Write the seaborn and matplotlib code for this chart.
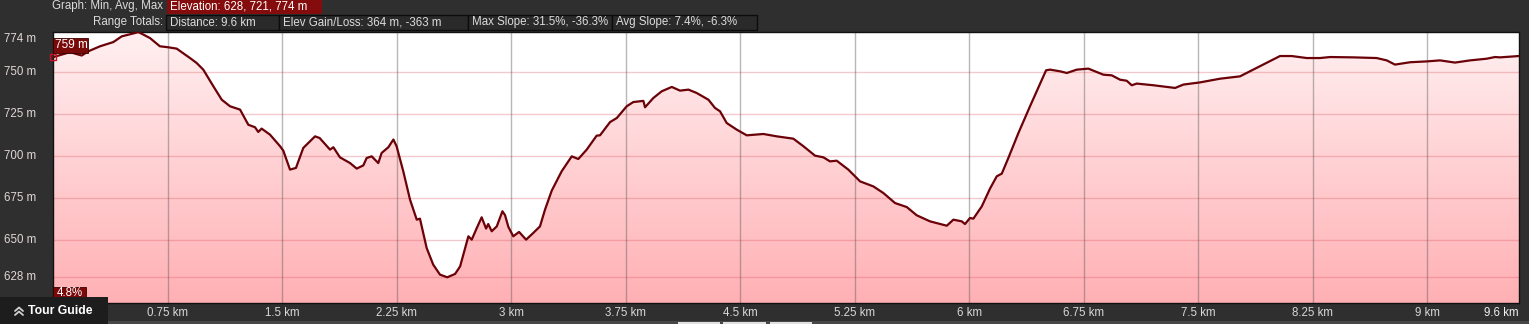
import numpy as np
import matplotlib
matplotlib.use("Agg")
import matplotlib.pyplot as plt
import seaborn as sns
from matplotlib.colors import LinearSegmentedColormap
from matplotlib.patches import Rectangle
from matplotlib.lines import Line2D
from matplotlib import transforms

# ---------------- data ----------------
distance_km = [0.0, 0.111, 0.188, 0.231, 0.308, 0.395, 0.45, 0.537, 0.559, 0.635, 0.70, 0.755, 0.81,
               0.897, 0.94, 0.984, 1.05, 1.105, 1.159, 1.225, 1.279, 1.323, 1.344, 1.366, 1.421, 1.487,
               1.508, 1.552, 1.591, 1.639, 1.716, 1.746, 1.814, 1.836, 1.879, 1.945, 1.989, 2.032,
               2.054, 2.087, 2.13, 2.152, 2.196, 2.229, 2.25, 2.294, 2.338, 2.382, 2.403, 2.447, 2.49,
               2.534, 2.582, 2.633, 2.666, 2.72, 2.742, 2.775, 2.807, 2.836, 2.85, 2.873, 2.906, 2.943,
               2.96, 2.982, 3.014, 3.052, 3.098, 3.145, 3.189, 3.222, 3.266, 3.331, 3.397, 3.44, 3.495,
               3.56, 3.582, 3.648, 3.692, 3.757, 3.80, 3.866, 3.877, 3.931, 3.986, 4.052, 4.106, 4.161,
               4.215, 4.292, 4.335, 4.368, 4.412, 4.477, 4.543, 4.652, 4.739, 4.848, 4.914, 4.99, 5.045,
               5.088, 5.132, 5.208, 5.285, 5.372, 5.437, 5.514, 5.591, 5.656, 5.743, 5.853, 5.896,
               5.951, 5.972, 6.005, 6.027, 6.082, 6.136, 6.18, 6.213, 6.256, 6.322, 6.398, 6.503,
               6.529, 6.595, 6.639, 6.704, 6.78, 6.878, 6.933, 6.988, 7.031, 7.064, 7.097, 7.206,
               7.348, 7.402, 7.511, 7.642, 7.773, 7.86, 8.035, 8.111, 8.21, 8.297, 8.363, 8.515,
               8.668, 8.734, 8.788, 8.887, 8.996, 9.083, 9.181, 9.279, 9.388, 9.443, 9.476, 9.6]
elevation_m = [759, 762, 760, 762.5, 765.5, 768, 771.4, 773.4, 774, 770.4, 765.5, 764.9, 764.1,
               758.5, 755.6, 751.6, 741.7, 733.7, 729.8, 727.8, 718.8, 717.3, 714.5, 716.5, 712.9, 706,
               703.4, 692.1, 693.1, 705, 711.9, 710.9, 704, 705.4, 699.4, 696, 692.7, 694.6,
               699, 700, 696, 702, 705.4, 710, 706, 691, 674.2, 662.3, 662.9, 645.4, 635.5,
               629.6, 628, 630, 634.5, 652.4, 650.4, 657.3, 663.7, 657, 659.7, 655.4, 658.3, 667.3,
               665, 658, 652.4, 655, 650.4, 654.4, 658.3, 668.3, 679.6, 691.1, 700, 698.4, 704,
               712.3, 712.5, 720.4, 722.8, 729.8, 732.3, 733, 729.2, 734.7, 738.7, 741.3, 739.1, 739.7,
               737.7, 733.7, 728.8, 726.8, 719.8, 715.9, 712.5, 713.3, 711.9, 710.5, 706, 700.4, 699.4,
               697, 697.4, 692.1, 685.1, 682.1, 678.2, 672.2, 669.8, 664.9, 661.3, 658.7, 662.3,
               661.3, 659.7, 663.3, 662.9, 670.2, 680.8, 688.1, 689.7, 699, 713.9, 729.8, 751.2,
               751.6, 750.6, 749.6, 751.6, 752.2, 748.6, 748.2, 745.6, 745, 742.3, 743.3, 742.3,
               740.7, 742.7, 744, 746.2, 747.6, 751.6, 759.7, 759.7, 758.5, 758.5, 759.1, 758.9,
               758.5, 757.1, 754.6, 756, 756.5, 757.1, 755.8, 757.1, 758.1, 759.1, 758.9, 759.7]

y_ticks = [774, 750, 725, 700, 675, 650, 628]
x_ticks = [0.75, 1.5, 2.25, 3.0, 3.75, 4.5, 5.25, 6.0, 6.75, 7.5, 8.25, 9.0]
x_tick_labels = ["0.75 km", "1.5 km", "2.25 km", "3 km", "3.75 km", "4.5 km", "5.25 km",
                 "6 km", "6.75 km", "7.5 km", "8.25 km", "9 km"]
x_end_label = "9.6 km"
header_row1 = ["Graph: Min, Avg, Max", "Elevation: 628, 721, 774 m"]
header_row2_title = "Range Totals:"
header_row2 = ["Distance: 9.6 km", "Elev Gain/Loss: 364 m, -363 m",
               "Max Slope: 31.5%, -36.3%", "Avg Slope: 7.4%, -6.3%"]
start_label = "759 m"
slope_label = "4.8%"
tour_label = "Tour Guide"

# ---------------- figure ----------------
W, H = 1529, 324
sns.set_style("white")
plt.rcParams["font.family"] = ["Liberation Sans", "DejaVu Sans"]
BG = "#2f2f2f"
fig = plt.figure(figsize=(W / 100, H / 100), dpi=100, facecolor=BG)

def fx(px):
    return px / W

def fy(py):
    return 1 - py / H

ax_l, ax_r, ax_t, ax_b = 53, 1519, 32, 303
ax = fig.add_axes([fx(ax_l), fy(ax_b), fx(ax_r - ax_l), (ax_b - ax_t) / H])
ax.set_facecolor("white")
YMIN, YMAX = 612.7, 774
XMAX = 9.6
ax.set_xlim(0, XMAX)
ax.set_ylim(YMIN, YMAX)

# gradient fill clipped to the area under the profile
cmap = LinearSegmentedColormap.from_list("pinkgrad", ["#ffb0b4", "#fff0f1"])
grad = np.linspace(0, 1, 256).reshape(-1, 1)
im = ax.imshow(grad, extent=[0, XMAX, YMIN, YMAX], aspect="auto", cmap=cmap,
               origin="lower", zorder=1, interpolation="bicubic")
poly = ax.fill_between(distance_km, elevation_m, YMIN, facecolor="none", edgecolor="none")
im.set_clip_path(poly.get_paths()[0], transform=ax.transData)

# grid lines
for yv in y_ticks[1:]:
    ax.axhline(yv, color=(0.85, 0.35, 0.38, 0.32), lw=1.0, zorder=2)
for xv in x_ticks:
    ax.axvline(xv, color=(0.35, 0.33, 0.33, 0.42), lw=1.0, zorder=2)

# profile line
sns.lineplot(x=distance_km, y=elevation_m, ax=ax, color="#6a0208", lw=1.6,
             sort=False, estimator=None, zorder=4)

ax.set_xticks([])
ax.set_yticks([])
for s in ax.spines.values():
    s.set_color("#111111")
    s.set_linewidth(1.0)

# y labels
ty = transforms.blended_transform_factory(fig.transFigure, ax.transData)
for yv in y_ticks:
    yy = yv if yv != 774 else 769.8
    ax.text(fx(4), yy, f"{yv} m", transform=ty, ha="left", va="center",
            fontsize=8.3, color="#e2d6d6", clip_on=False)

# x labels
tx = transforms.blended_transform_factory(ax.transData, fig.transFigure)
for xv, lab in zip(x_ticks, x_tick_labels):
    ax.text(xv, fy(313), lab, transform=tx, ha="center", va="center",
            fontsize=8.3, color="#d8d8d8", clip_on=False)
ax.text(XMAX, fy(313), x_end_label, transform=tx, ha="right", va="center",
        fontsize=8.3, color="#f0f0f0", clip_on=False)

# start marker and labels
ax.plot([0], [elevation_m[0]], marker="s", ms=4.5, mfc="none", mec="#cc1020", mew=1.0,
        zorder=6, clip_on=False)

def fig_rect(x0, y0, x1, y1, fc, ec="none", lw=0.0, z=10):
    fig.add_artist(Rectangle((fx(x0), fy(y1)), fx(x1 - x0), (y1 - y0) / H,
                             transform=fig.transFigure, facecolor=fc, edgecolor=ec,
                             linewidth=lw, zorder=z))

def fig_text(x, y, s, ha="left", color="#dcdcdc", size=8.3, weight="normal", z=12):
    fig.text(fx(x), fy(y), s, ha=ha, va="center", color=color, fontsize=size,
             fontweight=weight, zorder=z)

fig_rect(53, 38, 88, 53, "#7a0a0a", ec="#3a0000", lw=0.6)
fig_text(55, 45.5, start_label, color="white", size=8.5)
fig_rect(53, 287, 86, 299, "#7a0a0a", ec="#3a0000", lw=0.6)
fig_text(57, 293, slope_label, color="white", size=8.3)

# header
fig_text(163, 6.5, header_row1[0], ha="right")
fig_rect(167, -1, 322, 13.5, "#840c0c")
fig_text(170, 6.5, header_row1[1], color="white")
fig_text(163, 22, header_row2_title, ha="right")
box_edges = [166, 279, 468, 612, 757]
for i, lab in enumerate(header_row2):
    fig_rect(box_edges[i], 15, box_edges[i + 1], 30, "#2a2a2a", ec="#0c0c0c", lw=1.0)
    fig_text(box_edges[i] + 4, 22.5, lab)

# bottom strip and tour guide
fig_rect(0, 321, W, 324, "#474747", z=9)
for x0, x1 in [(678, 720), (723, 766), (770, 812)]:
    fig_rect(x0, 322, x1, 325, "#e0e0e0", z=9)
fig_rect(0, 297, 108, 325, "#1d1d1d", z=11)
for dy in (0, 4):
    fig.add_artist(Line2D([fx(15), fx(19), fx(23)],
                          [fy(311 + dy), fy(307.5 + dy), fy(311 + dy)],
                          transform=fig.transFigure, color="#d0d0d0", lw=1.3, zorder=12))
fig_text(28, 311, tour_label, color="white", size=8.8, weight="bold")

fig.savefig("out.png", dpi=100, facecolor=BG)
